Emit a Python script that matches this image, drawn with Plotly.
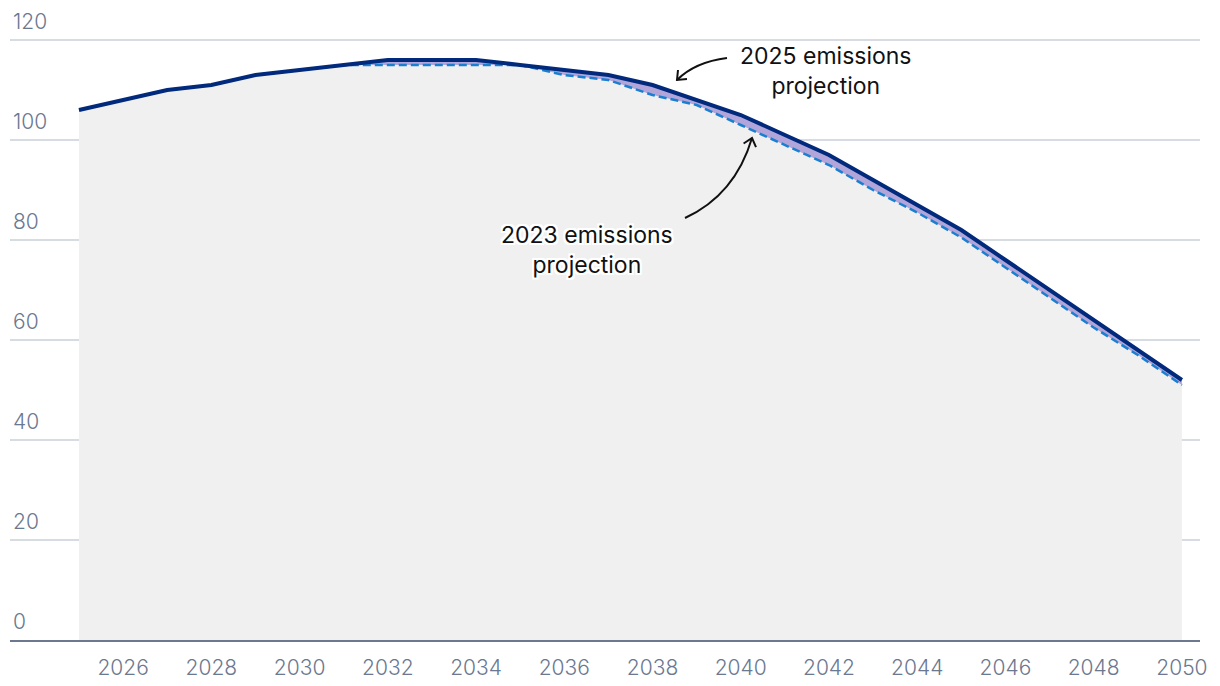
import plotly.graph_objects as go

years = list(range(2025, 2051))
proj_2025 = [106, 108, 110, 111, 113, 114, 115, 116, 116, 116, 115, 114, 113,
             111, 108, 105, 101, 97, 92, 87, 82, 76, 70, 64, 58, 52]
proj_2023 = [106, 108, 110, 111, 113, 114, 115, 115, 115, 115, 115, 113, 112,
             109, 107, 103, 99, 95, 90, 85.5, 80.5, 74.5, 68.5, 62.5, 57, 51]
x_ticks = list(range(2026, 2051, 2))
y_ticks = list(range(0, 121, 20))

NAVY = "#012a7c"
BLUE = "#1a7fd0"
PURPLE = "#b1a5da"
GREY = "#f0f0f0"
TICK = "#6b7890"
GRID = "#d7dbe2"
FONT = "Inter, 'Noto Sans', sans-serif"

W, H = 1220, 686
ML, MR, MT, MB = 10, 20, 0, 46
X0, X1 = 2023.436, 2050.41
Y0, Y1 = 0, 128


def px(xp, yp):
    """convert page pixel position to data coordinates (for annotation arrows)"""
    x = X0 + (xp - ML) / (W - ML - MR) * (X1 - X0)
    y = Y1 - (yp - MT) / (H - MT - MB) * (Y1 - Y0)
    return x, y


def pt(p):
    x, y = px(*p)
    return f"{x:.4f},{y:.4f}"


fig = go.Figure()
fig.add_trace(go.Scatter(x=years, y=proj_2023, mode="lines", line=dict(width=0),
                         fill="tozeroy", fillcolor=GREY, hoverinfo="skip", showlegend=False))
fig.add_trace(go.Scatter(x=years, y=proj_2025, mode="lines", line=dict(width=0),
                         fill="tonexty", fillcolor=PURPLE, hoverinfo="skip", showlegend=False))
fig.add_trace(go.Scatter(x=years, y=proj_2023, mode="lines", name="2023 emissions projection",
                         line=dict(color=BLUE, width=2.5, dash="8px,4px"), showlegend=False))
fig.add_trace(go.Scatter(x=years, y=proj_2025, mode="lines", name="2025 emissions projection",
                         line=dict(color=NAVY, width=4), showlegend=False))

halo = ", ".join(f"{a}px {b}px 0 white" for a in (-2, 0, 2) for b in (-2, 0, 2) if (a, b) != (0, 0))
afont = dict(family=FONT, size=23, color="#111111", shadow=halo)

ax1, ay1 = px(826, 71)
fig.add_annotation(x=ax1, y=ay1, text="2025 emissions<br>projection", showarrow=False,
                   font=afont, align="center", xanchor="center", yanchor="middle")
ax2, ay2 = px(587, 250)
fig.add_annotation(x=ax2, y=ay2, text="2023 emissions<br>projection", showarrow=False,
                   font=afont, align="center", xanchor="center", yanchor="middle")

arrow_line = dict(color="#111111", width=2)
paths = [
    f"M {pt((727, 58))} Q {pt((695, 62))} {pt((677, 80))}",
    f"M {pt((687, 79))} L {pt((677, 80))} L {pt((678, 70))}",
    f"M {pt((685, 218))} Q {pt((735, 195))} {pt((752, 138))}",
    f"M {pt((743.6, 143.5))} L {pt((752, 138))} L {pt((756, 147.2))}",
]
for s in paths:
    fig.add_shape(type="path", path=s, xref="x", yref="y", line=arrow_line,
                  fillcolor="rgba(0,0,0,0)", layer="above")

fig.update_layout(
    width=W, height=H,
    margin=dict(l=ML, r=MR, t=MT, b=MB, autoexpand=False),
    paper_bgcolor="white", plot_bgcolor="white",
    showlegend=False,
    font=dict(family=FONT, size=22, color=TICK),
)
fig.update_xaxes(range=[X0, X1], tickvals=x_ticks, ticktext=[str(t) for t in x_ticks],
                 showgrid=False, zeroline=False, showline=True, linecolor=TICK, linewidth=2,
                 ticks="", ticklabelstandoff=8, automargin=False,
                 tickfont=dict(family=FONT, size=21, color=TICK, weight=300))
fig.update_yaxes(range=[Y0, Y1], tickvals=y_ticks, ticktext=[str(t) for t in y_ticks],
                 showgrid=True, gridcolor=GRID, gridwidth=1.5, zeroline=False, showline=False,
                 ticks="", ticklabelposition="inside top", ticklabelshift=-4, automargin=False,
                 tickfont=dict(family=FONT, size=21, color=TICK, weight=300))

fig.write_html("out.html", config={"displayModeBar": False},
               post_script="document.body.style.margin='0px';document.body.style.padding='0px';")
